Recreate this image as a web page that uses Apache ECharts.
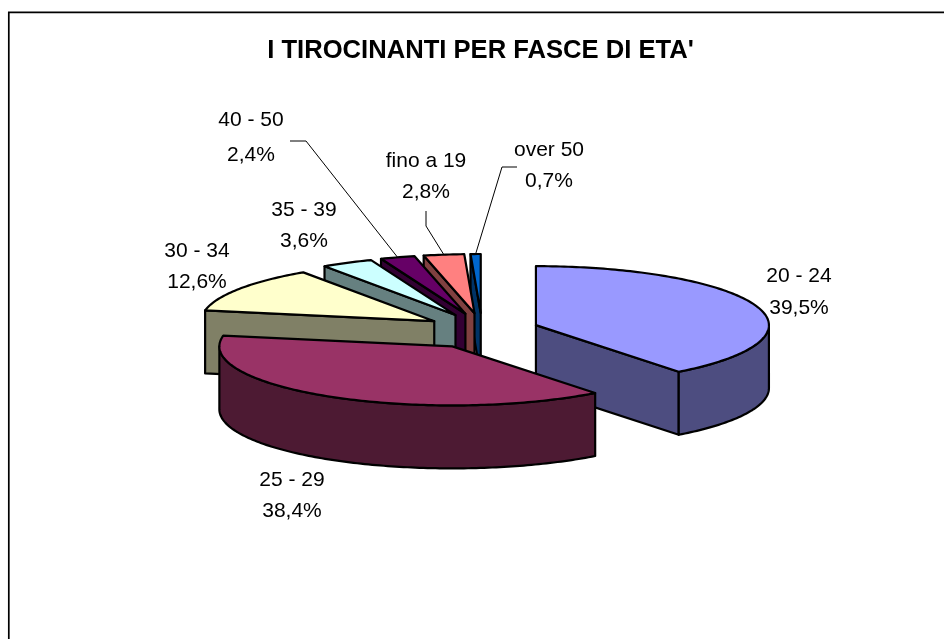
<!DOCTYPE html>
<html><head><meta charset="utf-8">
<style>html,body{margin:0;padding:0;background:#fff}#c{width:944px;height:639px}</style>
<script src="https://cdn.jsdelivr.net/npm/echarts@6/dist/echarts.min.js"></script>
</head><body><div id="c"></div>
<script>
const titleText = "I TIROCINANTI PER FASCE DI ETA'";
const categories = ['20 - 24','25 - 29','30 - 34','35 - 39','40 - 50','fino a 19','over 50'];
const percentages = [39.5,38.4,12.6,3.6,2.4,2.8,0.7];
const topColors  = ['#9999FF','#993366','#FFFFCC','#CCFFFF','#660066','#FF8080','#0066CC'];
const sideColors = ['#4D4D80','#4D1A33','#808066','#668080','#330033','#804040','#003366'];
// label layout: centre x, y of first line, y of second line
const labelX = [799,292,197,304,251,426,549];
const labelY1 = [276,480,251,210,120,161,150];
const labelY2 = [308,511,282,241,155,192,181];
// leader elbows (from label towards the slice), null = no leader
const leaders = [null,null,null,null,[[290,141],[306,141]],[[426,211],[426,226]],[[517,167],[502,167]]];

const CX=482, CY=331, RX=233, RY=59, DEPTH=63, EX=57, EY=18;
const total = percentages.reduce((a,b)=>a+b,0);
const rad = d=>d*Math.PI/180;
const angles = []; let acc=0;
percentages.forEach(v=>{const s=acc; acc+=v/total*360; angles.push([s,acc]);});
const centres = angles.map(([s,e])=>{const m=rad((s+e)/2);return [CX+EX*Math.sin(m),CY-EY*Math.cos(m)];});
const rim = (c,deg)=>[c[0]+RX*Math.sin(rad(deg)),c[1]-RY*Math.cos(rad(deg))];
const down = p=>[p[0],p[1]+DEPTH];
const arc = (c,a,b)=>{const pts=[];const n=Math.max(2,Math.ceil(Math.abs(b-a)));for(let i=0;i<=n;i++)pts.push(rim(c,a+(b-a)*i/n));return pts;};
const order = percentages.map((_,i)=>i).sort((a,b)=>centres[a][1]-centres[b][1]);
const edge = {stroke:'#000',lineWidth:2.2,lineJoin:'round'};
const poly=(points,fill)=>({type:'polygon',shape:{points},style:Object.assign({fill},edge),silent:true});

function renderSlice(params,api){
  const i=api.value(0);
  const [s,e]=angles[i], c=centres[i], kids=[];
  const radial=(deg)=>{const p=rim(c,deg);return poly([c,p,down(p),down(c)],sideColors[i]);};
  if(Math.sin(rad(s))<0) kids.push(radial(s));
  if(Math.sin(rad(e))>0) kids.push(radial(e));
  const a=Math.max(s,90), b=Math.min(e,270);
  if(b>a){const t=arc(c,a,b);kids.push(poly(t.concat(t.map(down).reverse()),sideColors[i]));}
  kids.push(poly([c].concat(arc(c,s,e)),topColors[i]));
  return {type:'group',children:kids};
}
function renderLabel(params,api){
  const i=api.value(0), kids=[];
  const pct=percentages[i].toFixed(1).replace('.',',')+'%';
  const txt=(t,y)=>({type:'text',style:{text:t,x:labelX[i],y,align:'center',verticalAlign:'middle',fill:'#000',font:'21px "Liberation Sans", Arial, sans-serif'},silent:true});
  kids.push(txt(categories[i],labelY1[i]),txt(pct,labelY2[i]));
  if(leaders[i]){
    const [s,e]=angles[i];
    const end=rim(centres[i],(s+e)/2);
    kids.push({type:'polyline',shape:{points:leaders[i].concat([end])},style:{stroke:'#000',lineWidth:1,fill:null},silent:true});
  }
  return {type:'group',children:kids};
}
const chart=echarts.init(document.getElementById('c'),null,{renderer:'canvas'});
chart.setOption({
  animation:false,
  backgroundColor:'#fff',
  title:{text:titleText,left:475.5,top:46,textAlign:'center',textVerticalAlign:'middle',
    textStyle:{fontFamily:'"Liberation Sans", Arial, sans-serif',fontWeight:'bold',fontSize:25.6,color:'#000'}},
  tooltip:{show:false},
  graphic:[{type:'polyline',shape:{points:[[8.8,639],[8.8,12.3],[944,12.3]]},style:{stroke:'#000',lineWidth:1.7,fill:null},silent:true}],
  series:[
    {type:'custom',coordinateSystem:'none',renderItem:renderSlice,data:order.map(i=>[i,percentages[i]]),clip:false,z:2},
    {type:'custom',coordinateSystem:'none',renderItem:renderLabel,data:percentages.map((v,i)=>[i,v]),clip:false,z:3}
  ]
});
</script></body></html>
